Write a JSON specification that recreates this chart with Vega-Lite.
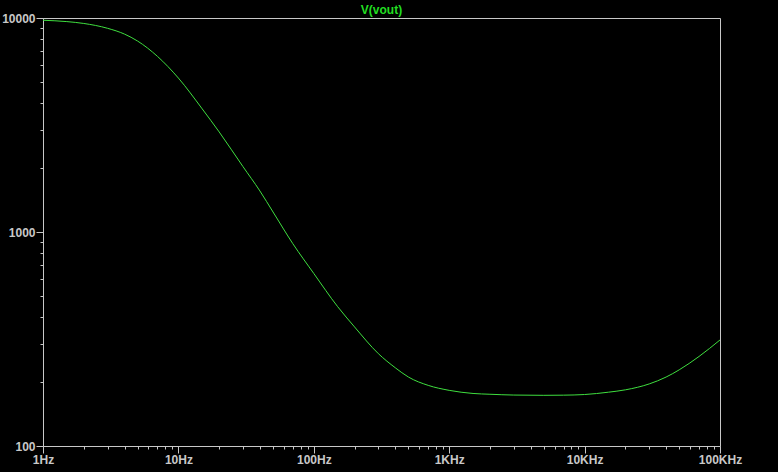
{
  "$schema": "https://vega.github.io/schema/vega-lite/v6.json",
  "width": 677,
  "height": 428,
  "autosize": {"type": "none"},
  "padding": {"left": 43, "top": 18, "right": 58, "bottom": 26},
  "background": "#000000",
  "title": {"text": "V(vout)", "color": "#22dd22", "font": "Liberation Sans", "fontSize": 12, "fontWeight": "bold", "anchor": "middle", "offset": 4, "dy": 9},
  "config": {"view": {"stroke": "#c8c8c8", "strokeWidth": 1}},
  "data": {"values": [
    {"f": 1, "v": 9760}, {"f": 1.5, "v": 9620}, {"f": 2, "v": 9430}, {"f": 3, "v": 8950}, {"f": 4, "v": 8410},
    {"f": 5, "v": 7800}, {"f": 7, "v": 6620}, {"f": 10, "v": 5240}, {"f": 15, "v": 3760},
    {"f": 20, "v": 2935}, {"f": 30, "v": 2020}, {"f": 40, "v": 1555}, {"f": 50, "v": 1240},
    {"f": 70, "v": 882}, {"f": 100, "v": 640}, {"f": 150, "v": 448}, {"f": 200, "v": 360},
    {"f": 300, "v": 270}, {"f": 400, "v": 232}, {"f": 500, "v": 210}, {"f": 700, "v": 192},
    {"f": 1000, "v": 182}, {"f": 1500, "v": 176}, {"f": 2000, "v": 174.5}, {"f": 3000, "v": 173},
    {"f": 5000, "v": 172.5}, {"f": 7000, "v": 172.8}, {"f": 10000, "v": 174}, {"f": 15000, "v": 178.4},
    {"f": 20000, "v": 183}, {"f": 30000, "v": 195}, {"f": 40000, "v": 210}, {"f": 50000, "v": 227},
    {"f": 70000, "v": 262}, {"f": 100000, "v": 313}
  ]},
  "mark": {"type": "line", "color": "#3fdf3f", "strokeWidth": 1, "interpolate": "monotone", "clip": true},
  "encoding": {
    "x": {
      "field": "f", "type": "quantitative",
      "scale": {"type": "log", "domain": [1, 100000], "nice": false},
      "axis": {
        "title": null, "grid": false, "domain": true, "domainColor": "#c8c8c8",
        "tickColor": "#c8c8c8",
        "values": [1,2,3,4,5,6,7,8,9,10,20,30,40,50,60,70,80,90,100,200,300,400,500,600,700,800,900,1000,2000,3000,4000,5000,6000,7000,8000,9000,10000,20000,30000,40000,50000,60000,70000,80000,90000,100000],
        "tickSize": {"condition": {"test": "indexof([1,10,100,1000,10000,100000], datum.value) >= 0", "value": 7}, "value": 3},
        "labelExpr": "datum.value == 1 ? '1Hz' : datum.value == 10 ? '10Hz' : datum.value == 100 ? '100Hz' : datum.value == 1000 ? '1KHz' : datum.value == 10000 ? '10KHz' : datum.value == 100000 ? '100KHz' : ''",
        "labelColor": "#c8c8c8", "labelFont": "Liberation Sans", "labelFontSize": 12, "labelFontWeight": "bold",
        "labelPadding": 1, "labelOverlap": false, "labelFlush": false
      }
    },
    "y": {
      "field": "v", "type": "quantitative",
      "scale": {"type": "log", "domain": [100, 10000], "nice": false},
      "axis": {
        "title": null, "grid": false, "domain": true, "domainColor": "#c8c8c8",
        "tickColor": "#c8c8c8",
        "values": [100,200,300,400,500,600,700,800,900,1000,2000,3000,4000,5000,6000,7000,8000,9000,10000],
        "tickSize": {"condition": {"test": "indexof([100,1000,10000], datum.value) >= 0", "value": 7}, "value": 3},
        "labelExpr": "indexof([100,1000,10000], datum.value) >= 0 ? datum.value + '' : ''",
        "labelColor": "#c8c8c8", "labelFont": "Liberation Sans", "labelFontSize": 12, "labelFontWeight": "bold",
        "labelPadding": 1, "labelOverlap": false, "labelFlush": false
      }
    }
  }
}
